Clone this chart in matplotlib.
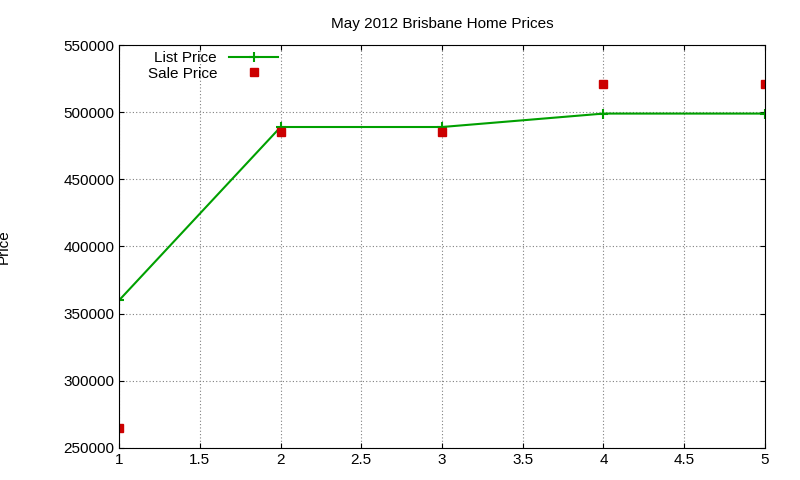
import matplotlib
matplotlib.use("Agg")
import matplotlib.pyplot as plt

plt.rcParams['font.family'] = ['Liberation Sans', 'DejaVu Sans']

# datos
x = [1, 2, 3, 4, 5]
list_price = [360000, 489000, 489000, 499000, 499000]
sale_price = [265000, 485000, 485000, 521000, 521000]

fig = plt.figure(figsize=(8, 4.8), dpi=100)
ax = fig.add_axes([0.149, 0.067, 0.807, 0.839])

ax.plot(x, list_price, color="#00a000", lw=1.5, marker="+", ms=7, mew=1.5, label="List Price")
ax.plot(x, sale_price, ls="none", color="#cc0000", marker="s", ms=6, label="Sale Price")

ax.set_xlim(1, 5)
ax.set_ylim(250000, 550000)
ax.set_xticks([1, 1.5, 2, 2.5, 3, 3.5, 4, 4.5, 5])
ax.set_xticklabels(["1", "1.5", "2", "2.5", "3", "3.5", "4", "4.5", "5"])
ax.set_yticks(range(250000, 550001, 50000))
ax.grid(True, color="gray", ls=(0, (1, 2)), lw=0.8)
ax.tick_params(direction="in", labelsize=11, top=True, right=True)
ax.set_title("May 2012 Brisbane Home Prices", fontsize=11, pad=12)
ax.set_ylabel("Price", fontsize=11, labelpad=38)

ax.legend(loc="upper left", bbox_to_anchor=(0.025, 1.015), frameon=False, markerfirst=False,
          fontsize=11, handlelength=3.2, borderpad=0.3, labelspacing=0.1)

fig.savefig("out.png", dpi=100)
